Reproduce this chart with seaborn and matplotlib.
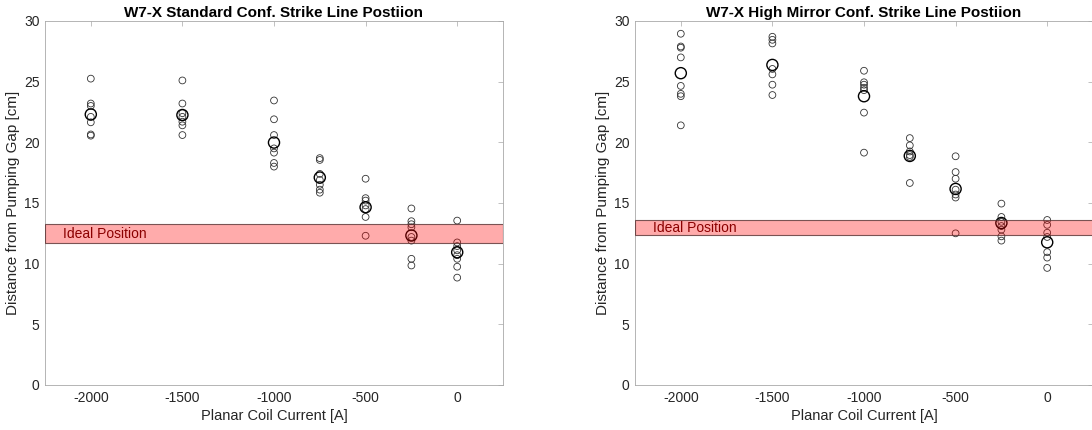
import numpy as np
import pandas as pd
import matplotlib
matplotlib.use("Agg")
import matplotlib.pyplot as plt
import seaborn as sns

currents = [-2000, -1500, -1000, -750, -500, -250, 0]

# standard configuration: individual shots and the mean (big circle)
std_shots = [
    [25.25, 23.2, 23.0, 22.1, 21.65, 20.65, 20.55],
    [25.1, 23.2, 22.4, 22.1, 21.7, 21.4, 20.6],
    [23.45, 21.9, 20.6, 19.5, 19.15, 18.3, 18.0],
    [18.7, 18.55, 17.4, 16.9, 16.5, 16.1, 15.85],
    [17.0, 15.4, 15.2, 14.8, 14.5, 13.85, 12.3],
    [14.55, 13.5, 13.25, 13.0, 12.2, 11.9, 10.4, 9.85],
    [13.55, 11.75, 11.45, 11.1, 10.7, 10.4, 9.75, 8.85],
]
std_mean = [22.3, 22.25, 19.98, 17.1, 14.65, 12.32, 10.94]
std_band = (11.7, 13.25)

# high mirror configuration
hm_shots = [
    [28.95, 27.9, 27.8, 27.0, 24.65, 24.0, 23.8, 21.4],
    [28.7, 28.45, 28.15, 26.05, 25.6, 24.75, 23.9],
    [25.9, 24.95, 24.75, 24.5, 24.3, 22.45, 19.15],
    [20.35, 19.75, 19.25, 18.95, 18.8, 16.65],
    [18.85, 17.55, 17.0, 16.1, 15.7, 15.45, 12.5],
    [14.95, 13.85, 13.45, 13.1, 12.8, 12.25, 11.9],
    [13.6, 13.2, 12.55, 12.2, 10.95, 10.5, 9.65],
]
hm_mean = [25.7, 26.38, 23.8, 18.88, 16.16, 13.35, 11.76]
hm_band = (12.35, 13.6)

titles = [
    "W7-X Standard Conf. Strike Line Postiion",
    "W7-X High Mirror Conf. Strike Line Postiion",
]

sns.set_style("white")
plt.rcParams["font.family"] = ["Liberation Sans", "DejaVu Sans"]
plt.rcParams["axes.unicode_minus"] = False

TXT = "#262626"
EDGE = "#a8a8a8"


def shots_frame(shots):
    rows = []
    for cur, vals in zip(currents, shots):
        for v in vals:
            rows.append({"current": cur, "distance": v})
    return pd.DataFrame(rows)


fig = plt.figure(figsize=(10.92, 4.30), dpi=100)
ax1 = fig.add_axes([45 / 1092, 45 / 430, 458 / 1092, 364 / 430])
ax2 = fig.add_axes([635 / 1092, 45 / 430, 458 / 1092, 364 / 430])

panels = [
    (ax1, std_shots, std_mean, std_band),
    (ax2, hm_shots, hm_mean, hm_band),
]

for i, (ax, shots, means, band) in enumerate(panels):
    df = shots_frame(shots)
    mean_df = pd.DataFrame({"current": currents, "distance": means})

    sns.scatterplot(
        data=df, x="current", y="distance", ax=ax,
        marker="o", s=24, facecolors="none",
        edgecolor="#333333", linewidth=0.6
    )
    sns.scatterplot(
        data=mean_df, x="current", y="distance", ax=ax,
        marker="o", s=64, facecolors="none",
        edgecolor="black", linewidth=1.0
    )

    ax.axhspan(band[0], band[1], facecolor=(1, 0, 0, 0.33),
               edgecolor=(0.35, 0.2, 0.2, 0.8), linewidth=0.8, zorder=3)
    ax.text(-2150, (band[0] + band[1]) / 2, "Ideal Position",
            color="#8b0000", fontsize=10, va="center", ha="left", zorder=4)

    ax.set_xlim(-2250, 250)
    ax.set_ylim(0, 30)
    ax.set_xticks([-2000, -1500, -1000, -500, 0])
    ax.set_yticks([0, 5, 10, 15, 20, 25, 30])

    ax.set_xlabel("Planar Coil Current [A]", fontsize=10.5, color=TXT, labelpad=3)
    ax.set_ylabel("Distance from Pumping Gap [cm]", fontsize=11, color=TXT, labelpad=3)
    ax.set_title(titles[i], fontsize=11, fontweight="bold", color="black", pad=3)

    ax.tick_params(direction="in", top=True, right=True, length=3.5,
                   width=0.5, color=EDGE, labelcolor=TXT, labelsize=10, pad=4)
    for sp in ax.spines.values():
        sp.set_visible(True)
        sp.set_color(EDGE)
        sp.set_linewidth(0.6)

fig.savefig("out.png", dpi=100)
